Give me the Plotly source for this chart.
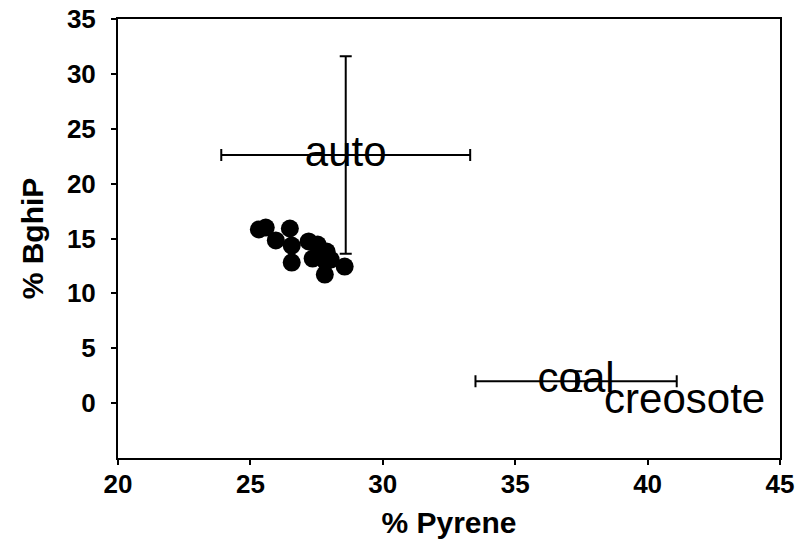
import plotly.graph_objects as go

# Sample measurements: % pyrene vs % benzo[ghi]perylene
sample_pyrene = [25.32, 25.58, 26.49, 25.96, 26.56, 26.56, 27.20, 27.54,
                 27.88, 27.35, 27.84, 27.81, 28.56, 28.03]
sample_bghip = [15.82, 16.00, 15.91, 14.82, 14.36, 12.81, 14.73, 14.45,
                13.81, 13.17, 12.90, 11.71, 12.44, 13.08]

# Source profiles with their spreads (creosote has no spread drawn)
source_names = ["auto", "coal"]
source_pyrene = [28.6, 37.3]
source_bghip = [22.6, 2.0]
source_pyrene_err = [4.7, 3.8]
source_bghip_err = [9.0, 0.9]

creosote_name = ["creosote"]
creosote_pyrene = [41.4]
creosote_bghip = [0.1]

x_ticks = [20, 25, 30, 35, 40, 45]
y_ticks = [0, 5, 10, 15, 20, 25, 30, 35]

FONT = "Liberation Sans, Arial, sans-serif"
label_font = dict(family=FONT, size=42, color="black")

fig = go.Figure()

fig.add_trace(go.Scatter(
    x=sample_pyrene, y=sample_bghip, mode="markers",
    marker=dict(size=18, color="black"),
    showlegend=False, hoverinfo="x+y",
))

fig.add_trace(go.Scatter(
    x=source_pyrene, y=source_bghip, mode="text",
    text=source_names, textposition="middle center",
    textfont=label_font,
    error_x=dict(type="data", array=source_pyrene_err, color="black",
                 thickness=2, width=6),
    error_y=dict(type="data", array=source_bghip_err, color="black",
                 thickness=2, width=6),
    showlegend=False, hoverinfo="x+y+text",
))

fig.add_trace(go.Scatter(
    x=creosote_pyrene, y=creosote_bghip, mode="text",
    text=creosote_name, textposition="middle center",
    textfont=label_font,
    showlegend=False, hoverinfo="x+y+text",
))

axis_common = dict(
    showline=True, linecolor="black", linewidth=2, mirror=True,
    ticks="outside", ticklen=5, tickwidth=2, tickcolor="black",
    showgrid=False, zeroline=False, automargin=False,
    tickfont=dict(family=FONT, size=26, color="black", weight="bold"),
)

fig.update_layout(
    width=799, height=553,
    margin=dict(l=118, r=19, t=19, b=95, autoexpand=False),
    paper_bgcolor="white", plot_bgcolor="white",
    xaxis=dict(range=[20, 45], tickvals=x_ticks, ticklabelstandoff=-3,
               title=dict(text="% Pyrene", standoff=14,
                          font=dict(family=FONT, size=30, color="black", weight="bold")),
               **axis_common),
    yaxis=dict(range=[-5, 35], tickvals=y_ticks, ticklabelstandoff=10,
               title=dict(text="% BghiP", standoff=14,
                          font=dict(family=FONT, size=30, color="black", weight="bold")),
               **axis_common),
)

fig.write_html("out.html")
